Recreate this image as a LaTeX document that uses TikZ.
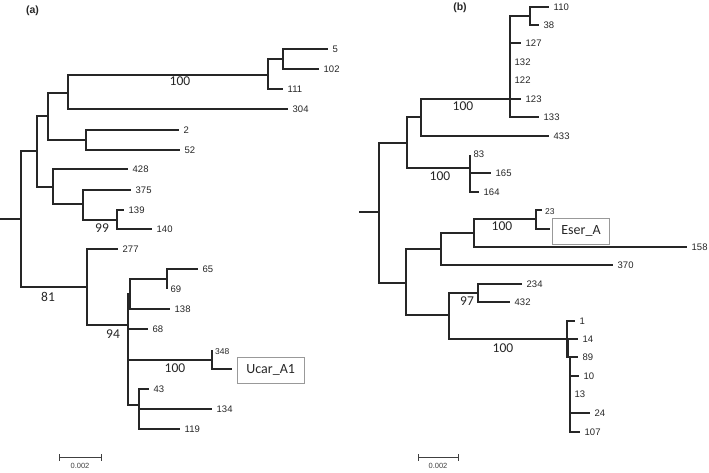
\documentclass[tikz,border=0pt]{standalone}
\usepackage{fontspec}
\setmainfont{Liberation Sans}
\newfontfamily\calfont{Carlito}
\begin{document}
\begin{tikzpicture}[x=1pt,y=-1pt,
  br/.style={line width=1.3pt, draw=black!85},
  lf/.style={anchor=west, inner sep=0pt, xshift=4.5pt, text=black!85, font=\fontsize{9.5}{10}\selectfont},
  sm/.style={anchor=south west, inner sep=0pt, xshift=3pt, yshift=-4.5pt, text=black!85, font=\fontsize{8.5}{9}\selectfont},
  bs/.style={inner sep=0pt, text=black!85, font=\calfont\fontsize{13.5}{14}\selectfont},
  lbox/.style={draw=black!40, line width=0.8pt, anchor=west, inner xsep=9pt, inner ysep=0pt, minimum height=26pt, text=black!85, font=\calfont\fontsize{14}{15}\selectfont},
  sbar/.style={line width=0.9pt, draw=black!75},
  slab/.style={inner sep=0pt, text=black!75, font=\fontsize{7.5}{8}\selectfont},
  ttl/.style={inner sep=0pt, text=black!85, font=\bfseries\fontsize{10.5}{11}\selectfont},
]
\useasboundingbox (0,0) rectangle (709,472);

% ---------------- panel (a) ----------------
\node[ttl] (ta) at (32.5,11) {(a)};
\coordinate (a0) at (0,219);
\coordinate (aR) at (21,219);
\coordinate (aA1) at (37,151);
\coordinate (aB1) at (48,116);
\coordinate (aC1) at (68,93);
\coordinate (aD1) at (268,75);
\coordinate (aE1) at (283,59);
\coordinate (l5) at (328,49);
\coordinate (l102) at (319,69);
\coordinate (l111) at (283,89);
\coordinate (l304) at (288,109);
\coordinate (aC2) at (86,140);
\coordinate (l2) at (179,130);
\coordinate (l52) at (180,150);
\coordinate (aB2) at (53,187);
\coordinate (l428) at (128,169);
\coordinate (aC3) at (83,204);
\coordinate (l375) at (131,190);
\coordinate (aC4) at (117,220);
\coordinate (l139) at (124,210);
\coordinate (l140) at (152,229);
\coordinate (aA2) at (87,287);
\coordinate (l277) at (118,249);
\coordinate (aB3) at (128,325);
\coordinate (aC5) at (130,294);
\coordinate (aD3) at (167,279);
\coordinate (l65) at (198,269);
\coordinate (l69) at (167,289);
\coordinate (l138) at (170,309);
\coordinate (l68) at (148,329);
\coordinate (aD2) at (212,360);
\coordinate (l348) at (212,350);
\coordinate (lU) at (232,369);
\coordinate (aC6) at (139,405);
\coordinate (l43) at (149,389);
\coordinate (l134) at (212,409);
\coordinate (l119) at (180,429);

\draw[br] (a0) -- (aR);
\draw[br] (aR) |- (aA1);
\draw[br] (aR) |- (aA2);
\draw[br] (aA1) |- (aB1);
\draw[br] (aA1) |- (aB2);
\draw[br] (aB1) |- (aC1);
\draw[br] (aB1) |- (aC2);
\draw[br] (aC1) |- (aD1);
\draw[br] (aC1) |- (l304);
\draw[br] (aD1) |- (aE1);
\draw[br] (aD1) |- (l111);
\draw[br] (aE1) |- (l5);
\draw[br] (aE1) |- (l102);
\draw[br] (aC2) |- (l2);
\draw[br] (aC2) |- (l52);
\draw[br] (aB2) |- (l428);
\draw[br] (aB2) |- (aC3);
\draw[br] (aC3) |- (l375);
\draw[br] (aC3) |- (aC4);
\draw[br] (aC4) |- (l139);
\draw[br] (aC4) |- (l140);
\draw[br] (aA2) |- (l277);
\draw[br] (aA2) |- (aB3);
\draw[br] (aB3) |- (aC5);
\draw[br] (aB3) |- (l68);
\draw[br] (aB3) |- (aD2);
\draw[br] (aB3) |- (aC6);
\draw[br] (aC5) |- (aD3);
\draw[br] (aC5) |- (l138);
\draw[br] (aD3) |- (l65);
\draw[br] (aD3) |- (l69);
\draw[br] (aD2) |- (l348);
\draw[br] (aD2) |- (lU);
\draw[br] (aC6) |- (l43);
\draw[br] (aC6) |- (l134);
\draw[br] (aC6) |- (l119);

\node[lf] (t5) at (l5) {5};
\node[lf] (t102) at (l102) {102};
\node[lf] (t111) at (l111) {111};
\node[lf] (t304) at (l304) {304};
\node[lf] (t2) at (l2) {2};
\node[lf] (t52) at (l52) {52};
\node[lf] (t428) at (l428) {428};
\node[lf] (t375) at (l375) {375};
\node[lf] (t139) at (l139) {139};
\node[lf] (t140) at (l140) {140};
\node[lf] (t277) at (l277) {277};
\node[lf] (t65) at (l65) {65};
\node[lf, xshift=-1pt] (t69) at (l69) {69};
\node[lf] (t138) at (l138) {138};
\node[lf] (t68) at (l68) {68};
\node[sm] (t348) at (l348) {348};
\node[lbox] (tU) at ([xshift=5pt,yshift=-1pt]lU) {Ucar\_A1};
\node[lf] (t43) at (l43) {43};
\node[lf] (t134) at (l134) {134};
\node[lf] (t119) at (l119) {119};

\node[bs] (ba1) at (180,81) {100};
\node[bs] (ba2) at (102,228) {99};
\node[bs] (ba3) at (48,297) {81};
\node[bs] (ba4) at (113,334) {94};
\node[bs] (ba5) at (175,368) {100};

\coordinate (sa1) at (59,457);
\coordinate (sa2) at (101,457);
\draw[sbar] (sa1) -- (sa2);
\draw[sbar] ([yshift=-3.5pt]sa1) -- ([yshift=3.5pt]sa1);
\draw[sbar] ([yshift=-3.5pt]sa2) -- ([yshift=3.5pt]sa2);
\node[slab] (sla) at (80,465.5) {0.002};

% ---------------- panel (b) ----------------
\node[ttl] (tb) at (460,8) {(b)};
\coordinate (b0) at (359,212);
\coordinate (bR) at (379,212);
\coordinate (bP1) at (407,143);
\coordinate (bP2) at (406,283);
\coordinate (bQ1) at (421,117);
\coordinate (bQ2) at (470,168);
\coordinate (bS1) at (510,99);
\coordinate (m433) at (549,136);
\coordinate (bT1) at (530,16);
\coordinate (m110) at (549,7);
\coordinate (m38) at (539,25);
\coordinate (m127) at (521,43);
\coordinate (m132) at (510,62);
\coordinate (m122) at (510,80);
\coordinate (m123) at (521,99);
\coordinate (m133) at (539,117);
\coordinate (m83) at (470,155);
\coordinate (m165) at (491,173);
\coordinate (m164) at (479,192);
\coordinate (bU1) at (441,249);
\coordinate (bU2) at (449,315);
\coordinate (bV1) at (474,233);
\coordinate (m370) at (613,265);
\coordinate (bW1) at (536,219);
\coordinate (m158) at (687,247);
\coordinate (m23) at (542,210);
\coordinate (mE) at (550,229);
\coordinate (bX1) at (478,293);
\coordinate (m234) at (522,284);
\coordinate (m432) at (510,302);
\coordinate (bX2) at (567,339);
\coordinate (m1) at (575,321);
\coordinate (bX3) at (568.5,348);
\coordinate (m14) at (578,339);
\coordinate (m89) at (578,357);
\coordinate (bX4) at (570,357);
\coordinate (m10) at (579,376);
\coordinate (m13) at (570,394);
\coordinate (m24) at (590,413);
\coordinate (m107) at (580,432);

\draw[br] (b0) -- (bR);
\draw[br] (bR) |- (bP1);
\draw[br] (bR) |- (bP2);
\draw[br] (bP1) |- (bQ1);
\draw[br] (bP1) |- (bQ2);
\draw[br] (bQ1) |- (bS1);
\draw[br] (bQ1) |- (m433);
\draw[br] (bS1) |- (bT1);
\draw[br] (bS1) |- (m127);
\draw[br] (bS1) |- (m132);
\draw[br] (bS1) |- (m122);
\draw[br] (bS1) |- (m123);
\draw[br] (bS1) |- (m133);
\draw[br] (bT1) |- (m110);
\draw[br] (bT1) |- (m38);
\draw[br] (bQ2) |- (m83);
\draw[br] (bQ2) |- (m165);
\draw[br] (bQ2) |- (m164);
\draw[br] (bP2) |- (bU1);
\draw[br] (bP2) |- (bU2);
\draw[br] (bU1) |- (bV1);
\draw[br] (bU1) |- (m370);
\draw[br] (bV1) |- (bW1);
\draw[br] (bV1) |- (m158);
\draw[br] (bW1) |- (m23);
\draw[br] (bW1) |- (mE);
\draw[br] (bU2) |- (bX1);
\draw[br] (bU2) |- (bX2);
\draw[br] (bX1) |- (m234);
\draw[br] (bX1) |- (m432);
\draw[br] (bX2) |- (m1);
\draw[br] (bX2) |- (bX3);
\draw[br] (bX2) |- (bX4);
\draw[br] (bX3) |- (m14);
\draw[br] (bX3) |- (m89);
\draw[br] (bX4) |- (m10);
\draw[br] (bX4) |- (m13);
\draw[br] (bX4) |- (m24);
\draw[br] (bX4) |- (m107);

\node[lf] (u110) at (m110) {110};
\node[lf] (u38) at (m38) {38};
\node[lf] (u127) at (m127) {127};
\node[lf] (u132) at (m132) {132};
\node[lf] (u122) at (m122) {122};
\node[lf] (u123) at (m123) {123};
\node[lf] (u133) at (m133) {133};
\node[lf] (u433) at (m433) {433};
\node[lf, xshift=-1pt, yshift=0.5pt] (u83) at (m83) {83};
\node[lf] (u165) at (m165) {165};
\node[lf] (u164) at (m164) {164};
\node[sm] (u23) at (m23) {23};
\node[lbox] (uE) at ([xshift=2pt,yshift=-2pt]mE) {Eser\_A};
\node[lf] (u158) at (m158) {158};
\node[lf] (u370) at (m370) {370};
\node[lf] (u234) at (m234) {234};
\node[lf] (u432) at (m432) {432};
\node[lf] (u1) at (m1) {1};
\node[lf] (u14) at (m14) {14};
\node[lf] (u89) at (m89) {89};
\node[lf] (u10) at (m10) {10};
\node[lf] (u13) at (m13) {13};
\node[lf] (u24) at (m24) {24};
\node[lf] (u107) at (m107) {107};

\node[bs] (bb1) at (463,106) {100};
\node[bs] (bb2) at (440,176) {100};
\node[bs] (bb3) at (502,226) {100};
\node[bs] (bb4) at (467,301) {97};
\node[bs] (bb5) at (503,348) {100};

\coordinate (sb1) at (418,457);
\coordinate (sb2) at (458,457);
\draw[sbar] (sb1) -- (sb2);
\draw[sbar] ([yshift=-3.5pt]sb1) -- ([yshift=3.5pt]sb1);
\draw[sbar] ([yshift=-3.5pt]sb2) -- ([yshift=3.5pt]sb2);
\node[slab] (slb) at (438,465.5) {0.002};
\end{tikzpicture}
\end{document}
